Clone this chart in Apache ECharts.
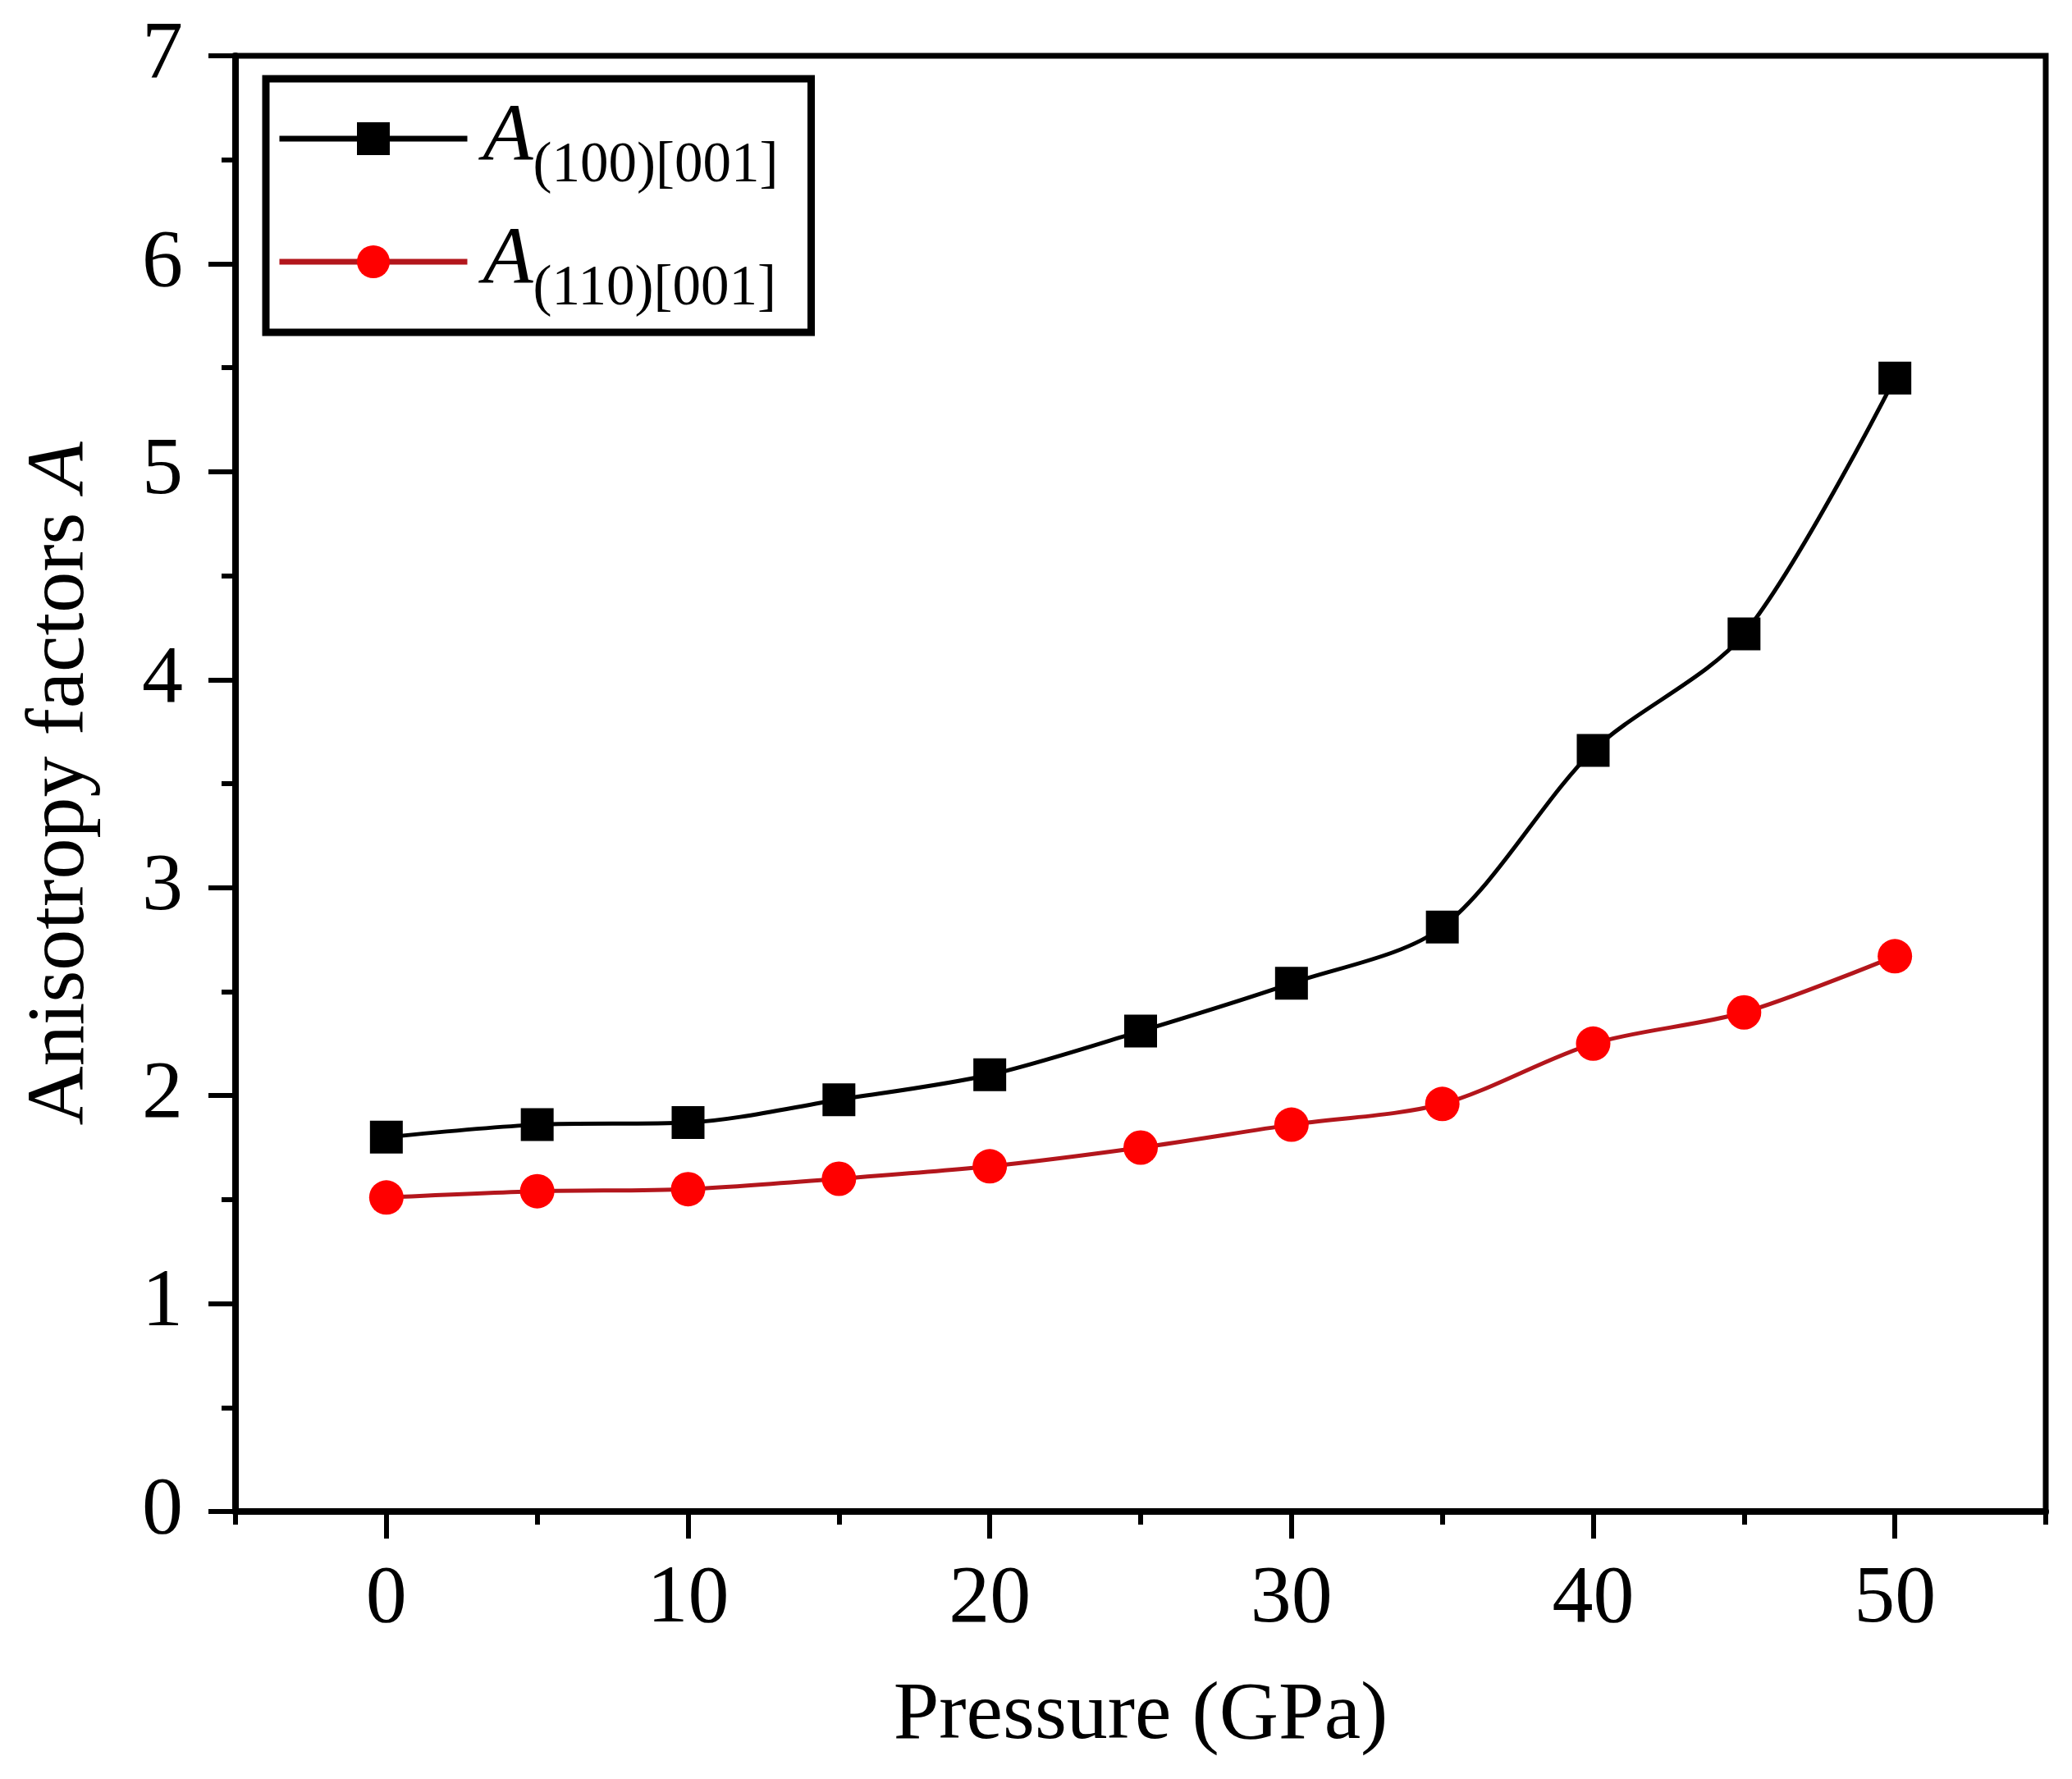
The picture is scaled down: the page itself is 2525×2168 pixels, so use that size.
<!DOCTYPE html>
<html>
<head>
<meta charset="utf-8">
<script src="https://cdn.jsdelivr.net/npm/echarts@6/dist/echarts.min.js"></script>
<style>
html, body { margin: 0; padding: 0; background: #fff; }
#chart { width: 2525px; height: 2168px; }
</style>
</head>
<body>
<div id="chart"></div>
<script>
var pressure = [0, 5, 10, 15, 20, 25, 30, 35, 40, 45, 50];
var a100 = [1.80, 1.86, 1.87, 1.98, 2.10, 2.31, 2.54, 2.81, 3.66, 4.22, 5.45];
var a110 = [1.51, 1.54, 1.55, 1.60, 1.66, 1.75, 1.86, 1.96, 2.25, 2.40, 2.67];
var xMajor = [0, 10, 20, 30, 40, 50];
var xMinor = [-5, 5, 15, 25, 35, 45, 55];

var font = 'Liberation Serif';

function pairs(xs, ys) {
    return xs.map(function(x, i) { return [x, ys[i]]; });
}

var chart = echarts.init(document.getElementById('chart'));
chart.setOption({
    backgroundColor: '#fff',
    animation: false,
    grid: {
        left: 287, right: 32, top: 68, bottom: 326,
        show: true, borderColor: '#000', borderWidth: 7
    },
    legend: {
        left: 324, top: 96,
        orient: 'vertical',
        padding: [23, 40, 18, 13],
        itemGap: 32,
        itemWidth: 229,
        itemHeight: 50,
        borderColor: '#000',
        borderWidth: 9,
        lineStyle: { width: 7 },
        data: ['A100', 'A110'],
        formatter: function(name) {
            return name === 'A100' ? '{a|A}{s|(100)[001]}' : '{a|A}{s|(110)[001]}';
        },
        textStyle: {
            fontFamily: font,
            color: '#000',
            rich: {
                a: { fontFamily: font, fontSize: 100, fontStyle: 'italic', lineHeight: 136, verticalAlign: 'middle', padding: [0, 0, 0, 14] },
                s: { fontFamily: font, fontSize: 69, lineHeight: 66, verticalAlign: 'bottom' }
            }
        }
    },
    xAxis: [{
        type: 'value',
        min: -5, max: 55, interval: 5,
        name: 'Pressure (GPa)',
        nameLocation: 'middle',
        nameGap: 200,
        nameTextStyle: { fontFamily: font, fontSize: 100, color: '#000' },
        axisLine: { show: true, onZero: false, lineStyle: { color: '#000', width: 8 } },
        axisTick: { show: true, inside: false, length: 33, customValues: xMajor, lineStyle: { color: '#000', width: 6 } },
        axisLabel: { customValues: xMajor, margin: 58, fontFamily: font, fontSize: 100, color: '#000' },
        splitLine: { show: false }
    }, {
        type: 'value',
        min: -5, max: 55, interval: 5,
        position: 'bottom',
        axisLine: { show: false, onZero: false },
        axisTick: { show: true, length: 16, customValues: xMinor, lineStyle: { color: '#000', width: 6 } },
        axisLabel: { show: false },
        splitLine: { show: false }
    }],
    yAxis: {
        type: 'value',
        min: 0, max: 7, interval: 1,
        name: 'Anisotropy factors {i|A}',
        nameLocation: 'middle',
        nameGap: 162,
        nameTextStyle: {
            fontFamily: font, fontSize: 100, color: '#000',
            rich: { i: { fontFamily: font, fontSize: 100, fontStyle: 'italic', color: '#000' } }
        },
        axisLine: { show: true, onZero: false, lineStyle: { color: '#000', width: 8 } },
        axisTick: { show: true, length: 33, lineStyle: { color: '#000', width: 6 } },
        minorTick: { show: true, splitNumber: 2, length: 17, lineStyle: { color: '#000', width: 6 } },
        axisLabel: { margin: 64, fontFamily: font, fontSize: 100, color: '#000' },
        splitLine: { show: false }
    },
    series: [{
        name: 'A100',
        type: 'line',
        data: pairs(pressure, a100),
        smooth: 0.3,
        symbol: 'rect',
        symbolSize: 40,
        itemStyle: { color: '#000' },
        lineStyle: { color: '#000', width: 5 }
    }, {
        name: 'A110',
        type: 'line',
        data: pairs(pressure, a110),
        smooth: 0.3,
        symbol: 'circle',
        symbolSize: 42,
        itemStyle: { color: '#ff0000' },
        lineStyle: { color: '#b3161c', width: 5 }
    }]
});
</script>
</body>
</html>
